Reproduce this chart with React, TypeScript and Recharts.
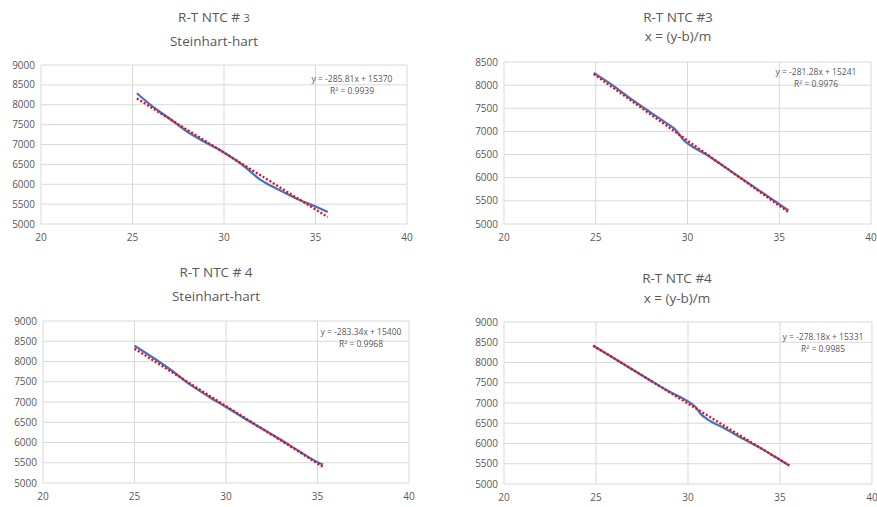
import { LineChart, Line, XAxis, YAxis, CartesianGrid } from "recharts"

// NTC #3, Steinhart-hart
const tempA = [25.24, 26, 27, 28, 29, 30, 31, 32, 33, 34, 35, 35.67]
const resA = [8290, 7990, 7660, 7320, 7050, 6800, 6490, 6110, 5860, 5630, 5440, 5300]
const trendTempA = [25.24, 35.67]
const trendResA = [8156, 5175]

// NTC #3, x = (y-b)/m
const tempB = [24.89, 26, 27, 28, 29, 29.3, 29.6, 29.85, 30.1, 31, 32, 33, 34, 35, 35.5]
const resB = [8265, 7975, 7680, 7406, 7140, 7055, 6910, 6790, 6715, 6507, 6240, 5968, 5700, 5428, 5290]
const trendTempB = [24.89, 35.5]
const trendResB = [8240, 5256]

// NTC #4, Steinhart-hart
const tempC = [25, 26, 27, 28, 29, 30, 31, 32, 33, 34, 35, 35.3]
const resC = [8390, 8100, 7790, 7440, 7150, 6875, 6600, 6333, 6067, 5783, 5515, 5455]
const trendTempC = [25, 35.3]
const trendResC = [8316, 5398]

// NTC #4, x = (y-b)/m
const tempD = [24.85, 26, 27, 28, 29, 30, 30.4, 30.7, 31, 32, 33, 34, 35, 35.5]
const resD = [8410, 8100, 7820, 7545, 7280, 7040, 6905, 6725, 6615, 6370, 6115, 5873, 5597, 5455]
const trendTempD = [24.85, 35.5]
const trendResD = [8418, 5456]

const xTicks = [20, 25, 30, 35, 40]
const yTicks9000 = [5000, 5500, 6000, 6500, 7000, 7500, 8000, 8500, 9000]
const yTicks8500 = [5000, 5500, 6000, 6500, 7000, 7500, 8000, 8500]

const FONT = "'Open Sans', 'Noto Sans', sans-serif"
const TEXT = "#595959"
const YAW = 40
const XAH = 20

const zip = (xs: number[], ys: number[]) => xs.map((t, i) => ({ t, r: ys[i] }))

type PanelProps = {
  box: { left: number; top: number; w: number; h: number }
  plot: { x0: number; y0: number; x1: number; y1: number }
  title: React.ReactNode
  subtitle: string
  titleY: number
  subY: number
  titleX: number
  eq: string
  r2: string
  eqX: number
  eqY: number
  yTicks: number[]
  temps: number[]
  res: number[]
  trendT: number[]
  trendR: number[]
}

function Panel(p: PanelProps) {
  const { box, plot } = p
  const margin = {
    left: plot.x0 - box.left - YAW,
    right: box.left + box.w - plot.x1,
    top: plot.y0 - box.top,
    bottom: box.top + box.h - plot.y1 - XAH,
  }
  const yMax = p.yTicks[p.yTicks.length - 1]
  return (
    <>
      <div style={{ position: "absolute", left: box.left, top: box.top }}>
        <LineChart width={box.w} height={box.h} margin={margin}>
          <CartesianGrid stroke="#d9d9d9" strokeWidth={1} />
          <XAxis
            type="number"
            dataKey="t"
            domain={[20, 40]}
            ticks={xTicks}
            axisLine={false}
            tickLine={false}
            tickSize={6}
            tickMargin={4}
            height={XAH}
            interval={0}
            tick={{ fontSize: 10, fill: TEXT, fontFamily: FONT }}
          />
          <YAxis
            type="number"
            domain={[5000, yMax]}
            ticks={p.yTicks}
            axisLine={false}
            tickLine={false}
            tickSize={4}
            tickMargin={2}
            width={YAW}
            interval={0}
            tick={{ fontSize: 10, fill: TEXT, fontFamily: FONT }}
          />
          <Line
            data={zip(p.temps, p.res)}
            dataKey="r"
            type="monotone"
            stroke="#4472C4"
            strokeWidth={2.25}
            dot={false}
            isAnimationActive={false}
          />
          <Line
            data={zip(p.trendT, p.trendR)}
            dataKey="r"
            type="linear"
            stroke="#FF0000"
            strokeWidth={2.25}
            strokeDasharray="2 2"
            dot={false}
            isAnimationActive={false}
          />
        </LineChart>
      </div>
      <div style={{ position: "absolute", left: p.titleX - 100, width: 200, top: p.titleY - 9, textAlign: "center", fontSize: 13.5, color: TEXT, fontFamily: FONT, lineHeight: "18px" }}>
        {p.title}
      </div>
      <div style={{ position: "absolute", left: p.titleX - 100, width: 200, top: p.subY - 9, textAlign: "center", fontSize: 13.5, color: TEXT, fontFamily: FONT, lineHeight: "18px" }}>
        {p.subtitle}
      </div>
      <div style={{ position: "absolute", left: p.eqX - 60, width: 120, top: p.eqY - 6, textAlign: "center", fontSize: 8.5, color: TEXT, fontFamily: FONT, lineHeight: "12px" }}>
        <div>{p.eq}</div>
        <div>{p.r2}</div>
      </div>
    </>
  )
}

export default function App() {
  return (
    <div style={{ position: "absolute", left: 0, top: 0, width: 877, height: 507, background: "#fff", overflow: "hidden" }}>
      <Panel
        box={{ left: 0, top: 0, w: 438, h: 252 }}
        plot={{ x0: 41, y0: 65, x1: 407, y1: 224 }}
        title={<>R-T NTC # <span style={{ fontSize: 11 }}>3</span></>}
        subtitle="Steinhart-hart"
        titleX={214}
        titleY={17}
        subY={41}
        eq="y = -285.81x + 15370"
        r2="R² = 0.9939"
        eqX={352}
        eqY={79}
        yTicks={yTicks9000}
        temps={tempA}
        res={resA}
        trendT={trendTempA}
        trendR={trendResA}
      />
      <Panel
        box={{ left: 438, top: 0, w: 439, h: 252 }}
        plot={{ x0: 504, y0: 62, x1: 871, y1: 224 }}
        title="R-T NTC #3"
        subtitle="x = (y-b)/m"
        titleX={678}
        titleY={17}
        subY={36}
        eq="y = -281.28x + 15241"
        r2="R² = 0.9976"
        eqX={816}
        eqY={72}
        yTicks={yTicks8500}
        temps={tempB}
        res={resB}
        trendT={trendTempB}
        trendR={trendResB}
      />
      <Panel
        box={{ left: 0, top: 252, w: 438, h: 255 }}
        plot={{ x0: 43, y0: 321, x1: 409, y1: 483 }}
        title="R-T NTC # 4"
        subtitle="Steinhart-hart"
        titleX={216}
        titleY={272}
        subY={296}
        eq="y = -283.34x + 15400"
        r2="R² = 0.9968"
        eqX={361}
        eqY={332}
        yTicks={yTicks9000}
        temps={tempC}
        res={resC}
        trendT={trendTempC}
        trendR={trendResC}
      />
      <Panel
        box={{ left: 438, top: 252, w: 439, h: 255 }}
        plot={{ x0: 504, y0: 322, x1: 872, y1: 484 }}
        title="R-T NTC #4"
        subtitle="x = (y-b)/m"
        titleX={677}
        titleY={278}
        subY={298}
        eq="y = -278.18x + 15331"
        r2="R² = 0.9985"
        eqX={823}
        eqY={337}
        yTicks={yTicks9000}
        temps={tempD}
        res={resD}
        trendT={trendTempD}
        trendR={trendResD}
      />
    </div>
  )
}
